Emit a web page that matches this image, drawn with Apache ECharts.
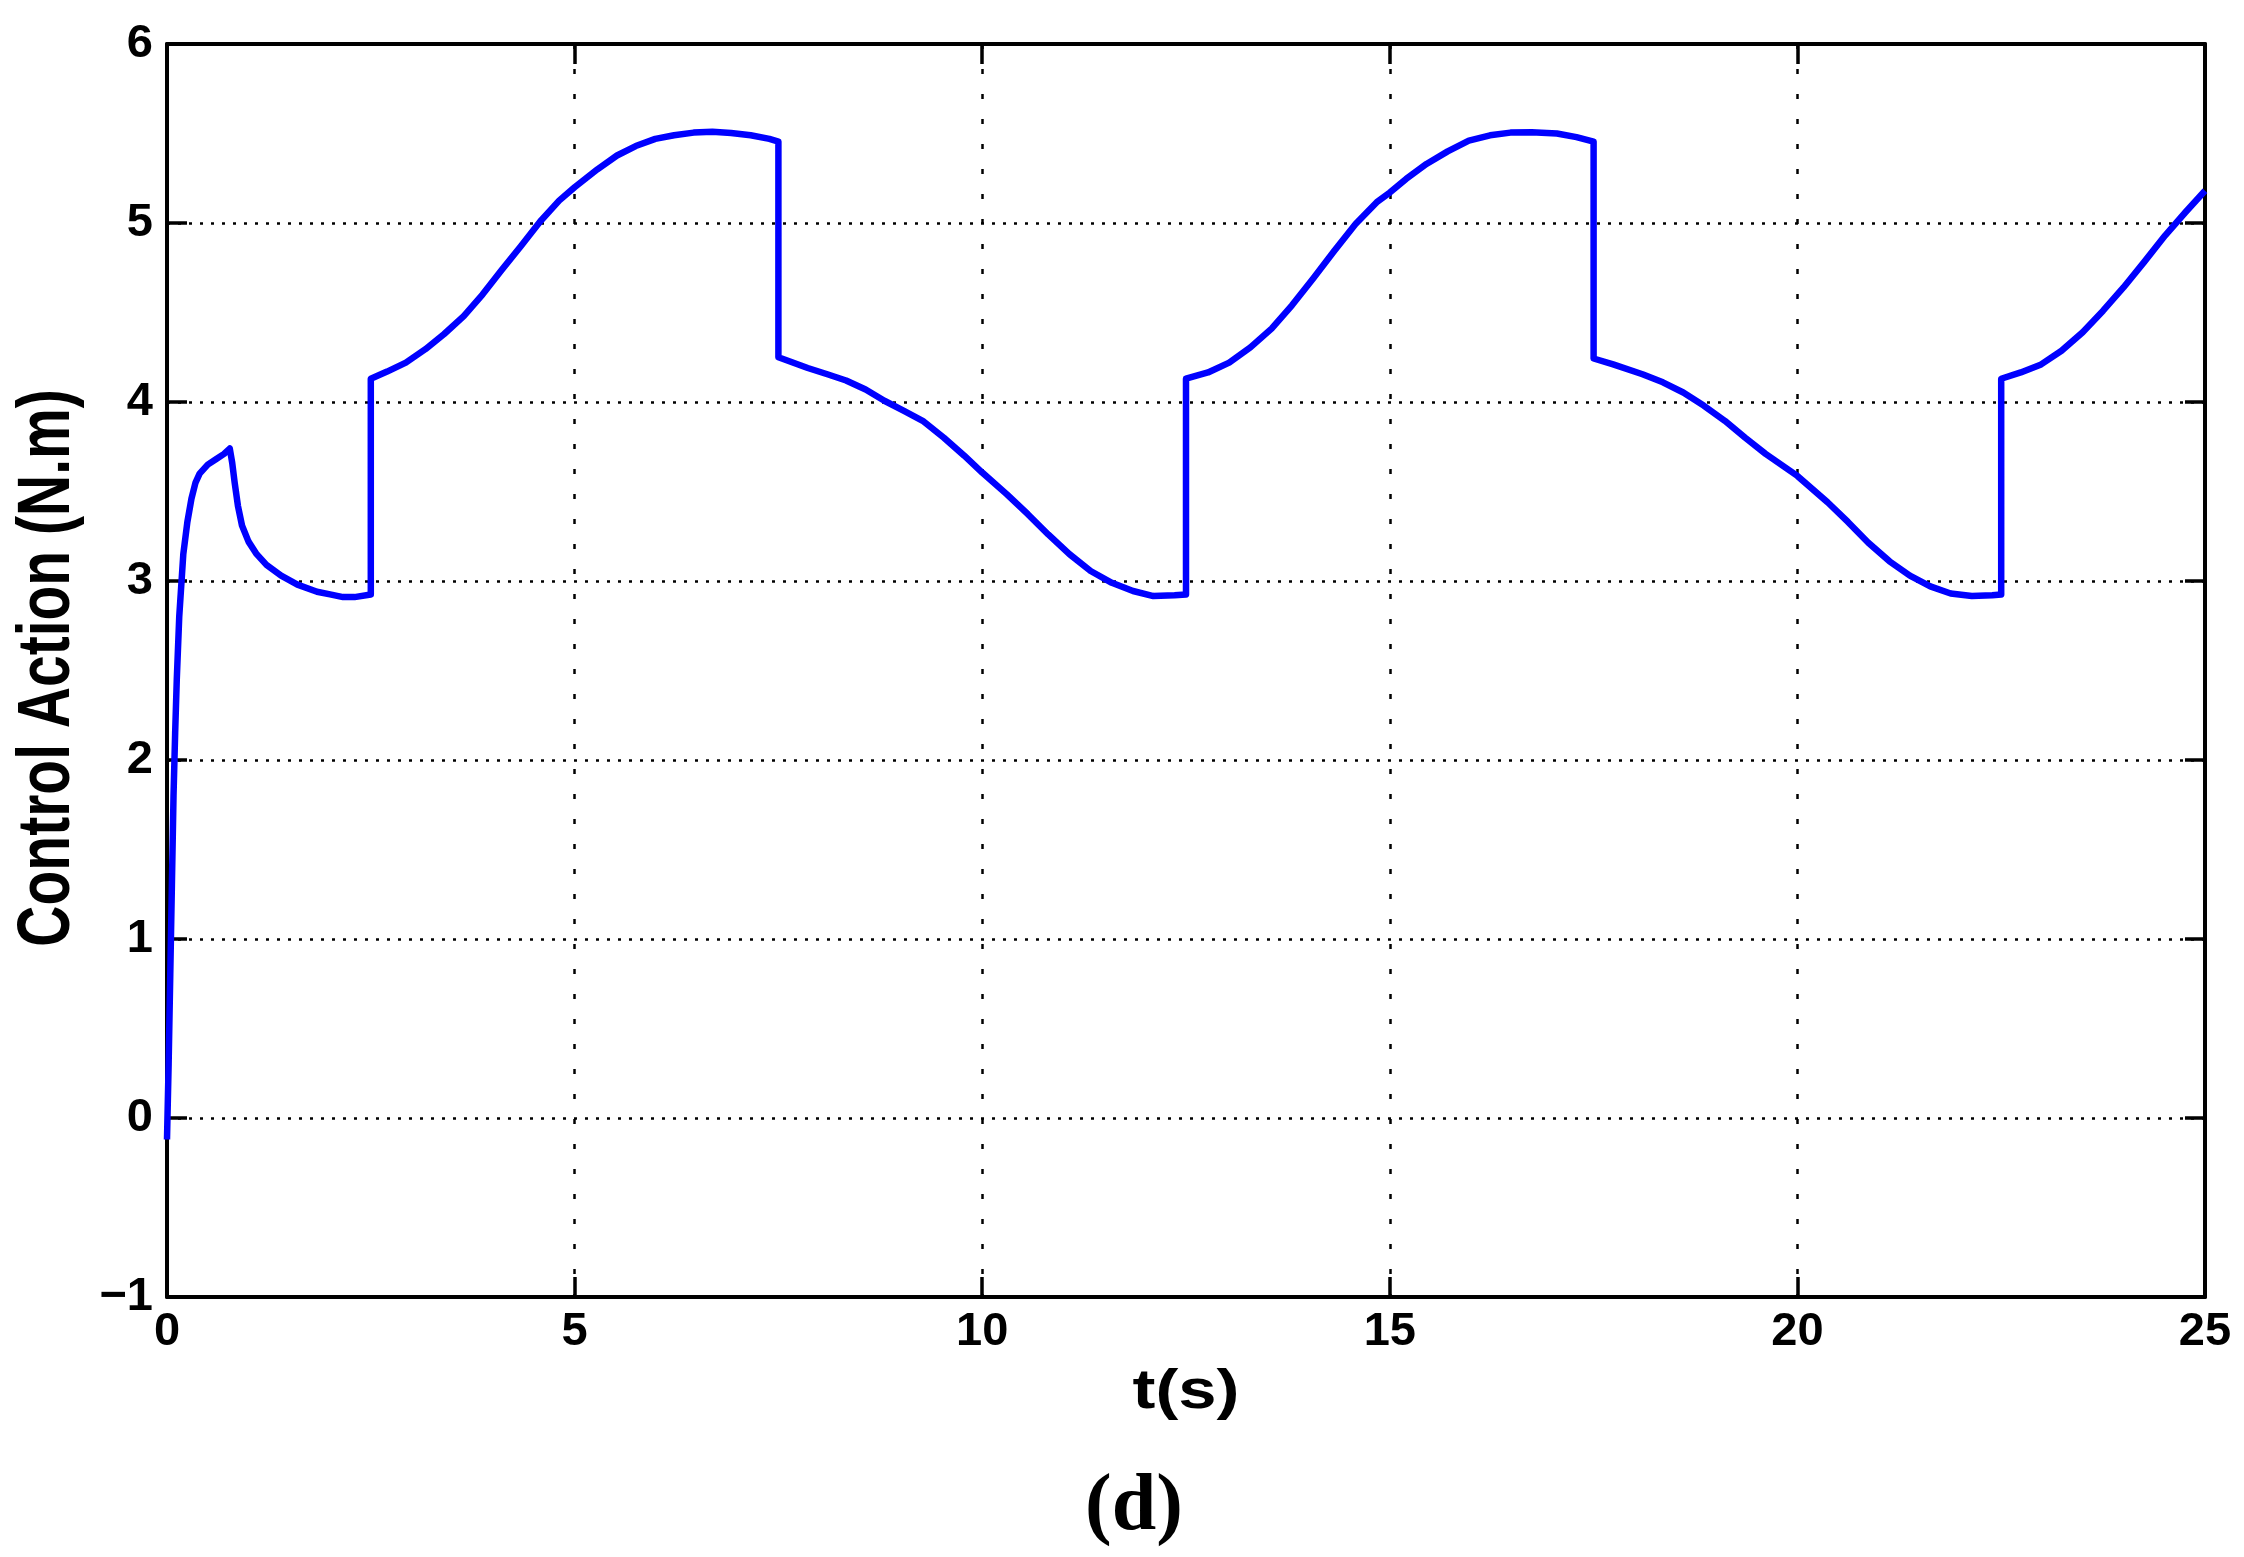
<!DOCTYPE html>
<html>
<head>
<meta charset="utf-8">
<title>Control Action</title>
<script src="https://cdn.jsdelivr.net/npm/echarts@6/dist/echarts.min.js"></script>
<style>
  html, body { margin: 0; padding: 0; background: #fff; }
  #main { width: 2244px; height: 1557px; }
</style>
</head>
<body>
<div id="main"></div>
<script>
// time (s) and control action (N.m)
var tData = [
  0, 0.02, 0.04, 0.06, 0.08, 0.10, 0.12, 0.15, 0.20, 0.25, 0.30, 0.35, 0.40, 0.50, 0.60, 0.70, 0.77,
  0.80, 0.83, 0.87, 0.92, 1.00, 1.10, 1.22, 1.40, 1.60, 1.84, 2.00, 2.16, 2.30, 2.50,
  2.50, 2.70, 2.93, 3.17, 3.40, 3.64, 3.87, 4.11, 4.34, 4.58, 4.81, 5.00, 5.28, 5.52, 5.75, 5.99,
  6.22, 6.46, 6.69, 6.92, 7.16, 7.39, 7.50,
  7.50, 7.86, 8.10, 8.33, 8.57, 8.80, 9.04, 9.27, 9.53, 9.78, 10.00, 10.30, 10.56, 10.81, 11.07,
  11.33, 11.59, 11.85, 12.10, 12.36, 12.50,
  12.50, 12.77, 13.03, 13.29, 13.55, 13.80, 14.06, 14.32, 14.58, 14.84, 15.00, 15.20, 15.45, 15.71,
  15.97, 16.23, 16.48, 16.74, 17.05, 17.29, 17.50,
  17.50, 17.74, 18.10, 18.35, 18.60, 18.85, 19.11, 19.36, 19.61, 20.00, 20.37, 20.62, 20.87, 21.13,
  21.38, 21.63, 21.88, 22.14, 22.39, 22.50,
  22.50, 22.74, 22.99, 23.24, 23.50, 23.75, 24.00, 24.25, 24.51, 24.76, 25.00
];
var uData = [
  -0.12, 0.3, 0.8, 1.3, 1.8, 2.15, 2.45, 2.8, 3.15, 3.33, 3.46, 3.55, 3.6, 3.65, 3.68, 3.71, 3.74,
  3.66, 3.55, 3.42, 3.31, 3.22, 3.15, 3.09, 3.03, 2.98, 2.94, 2.925, 2.91, 2.91, 2.925,
  4.13, 4.17, 4.22, 4.295, 4.38, 4.48, 4.60, 4.74, 4.87, 5.01, 5.125, 5.20, 5.30, 5.377, 5.43, 5.47,
  5.49, 5.505, 5.51, 5.503, 5.49, 5.47, 5.455,
  4.25, 4.19, 4.155, 4.12, 4.07, 4.007, 3.95, 3.895, 3.80, 3.70, 3.606, 3.485, 3.373, 3.26, 3.15,
  3.056, 2.99, 2.944, 2.916, 2.92, 2.925,
  4.13, 4.165, 4.22, 4.305, 4.41, 4.54, 4.69, 4.845, 4.994, 5.116, 5.17, 5.246, 5.33, 5.40,
  5.46, 5.49, 5.505, 5.507, 5.50, 5.48, 5.455,
  4.243, 4.21, 4.155, 4.11, 4.053, 3.98, 3.895, 3.80, 3.71, 3.587, 3.44, 3.33, 3.214, 3.11,
  3.03, 2.97, 2.93, 2.916, 2.92, 2.925,
  4.13, 4.165, 4.21, 4.286, 4.39, 4.51, 4.64, 4.78, 4.93, 5.06, 5.18
];
var xTicks = [0, 5, 10, 15, 20, 25];
var yTicks = [-1, 0, 1, 2, 3, 4, 5, 6];

var points = tData.map(function (t, i) { return [t, uData[i]]; });

var myChart = echarts.init(document.getElementById('main'));

var FONT = '"Liberation Sans", Arial, Helvetica, sans-serif';
var boxLine = { show: true, onZero: false, lineStyle: { color: '#000', width: 4 } };
var tickIn = { show: true, inside: true, length: 20, lineStyle: { color: '#000', width: 3.5 } };

function minus(v) {
    return v < 0 ? '\u2212' + Math.abs(v) : String(v);
}

var option = {
    animation: false,
    backgroundColor: '#fff',
    grid: { left: 167, right: 39, top: 44, bottom: 260 },
    xAxis: [
        {
            type: 'value',
            position: 'bottom',
            min: xTicks[0],
            max: xTicks[xTicks.length - 1],
            interval: 5,
            axisLine: boxLine,
            axisTick: tickIn,
            axisLabel: { margin: 12, fontFamily: FONT, fontWeight: 'bold', fontSize: 47, color: '#000' },
            splitLine: { show: true, lineStyle: { color: '#000', width: 2.5, type: [5, 20] } }
        },
        {
            type: 'value',
            position: 'top',
            min: xTicks[0],
            max: xTicks[xTicks.length - 1],
            interval: 5,
            axisLine: boxLine,
            axisTick: tickIn,
            axisLabel: { show: false },
            splitLine: { show: false }
        }
    ],
    yAxis: [
        {
            type: 'value',
            position: 'left',
            min: yTicks[0],
            max: yTicks[yTicks.length - 1],
            interval: 1,
            axisLine: boxLine,
            axisTick: tickIn,
            axisLabel: { margin: 14, fontFamily: FONT, fontWeight: 'bold', fontSize: 47, color: '#000', formatter: minus },
            splitLine: { show: true, lineStyle: { color: '#000', width: 2.5, type: [3, 8] } }
        },
        {
            type: 'value',
            position: 'right',
            min: yTicks[0],
            max: yTicks[yTicks.length - 1],
            interval: 1,
            axisLine: boxLine,
            axisTick: tickIn,
            axisLabel: { show: false },
            splitLine: { show: false }
        }
    ],
    series: [
        {
            type: 'line',
            xAxisIndex: 0,
            yAxisIndex: 0,
            data: points,
            showSymbol: false,
            smooth: false,
            lineStyle: { color: '#0000ff', width: 6.5, join: 'round' },
            z: 3
        }
    ],
    // axis titles drawn as graphics so the stretched MATLAB-style lettering can be matched
    graphic: [
        {
            type: 'text',
            x: 49,
            y: 668,
            rotation: Math.PI / 2,
            scaleY: 1.3,
            style: {
                text: 'Control Action (N.m)',
                font: 'bold 57px ' + FONT,
                fill: '#000',
                textAlign: 'center',
                textVerticalAlign: 'middle'
            }
        },
        {
            type: 'text',
            x: 1186,
            y: 1393,
            scaleX: 1.25,
            style: {
                text: 't(s)',
                font: 'bold 55px ' + FONT,
                fill: '#000',
                textAlign: 'center',
                textVerticalAlign: 'middle'
            }
        },
        {
            type: 'text',
            x: 1134,
            y: 1468,
            style: {
                text: '(d)',
                font: 'bold 80px "Liberation Serif", "Times New Roman", serif',
                fill: '#000',
                textAlign: 'center',
                textVerticalAlign: 'top'
            }
        }
    ]
};

myChart.setOption(option);
</script>
</body>
</html>
